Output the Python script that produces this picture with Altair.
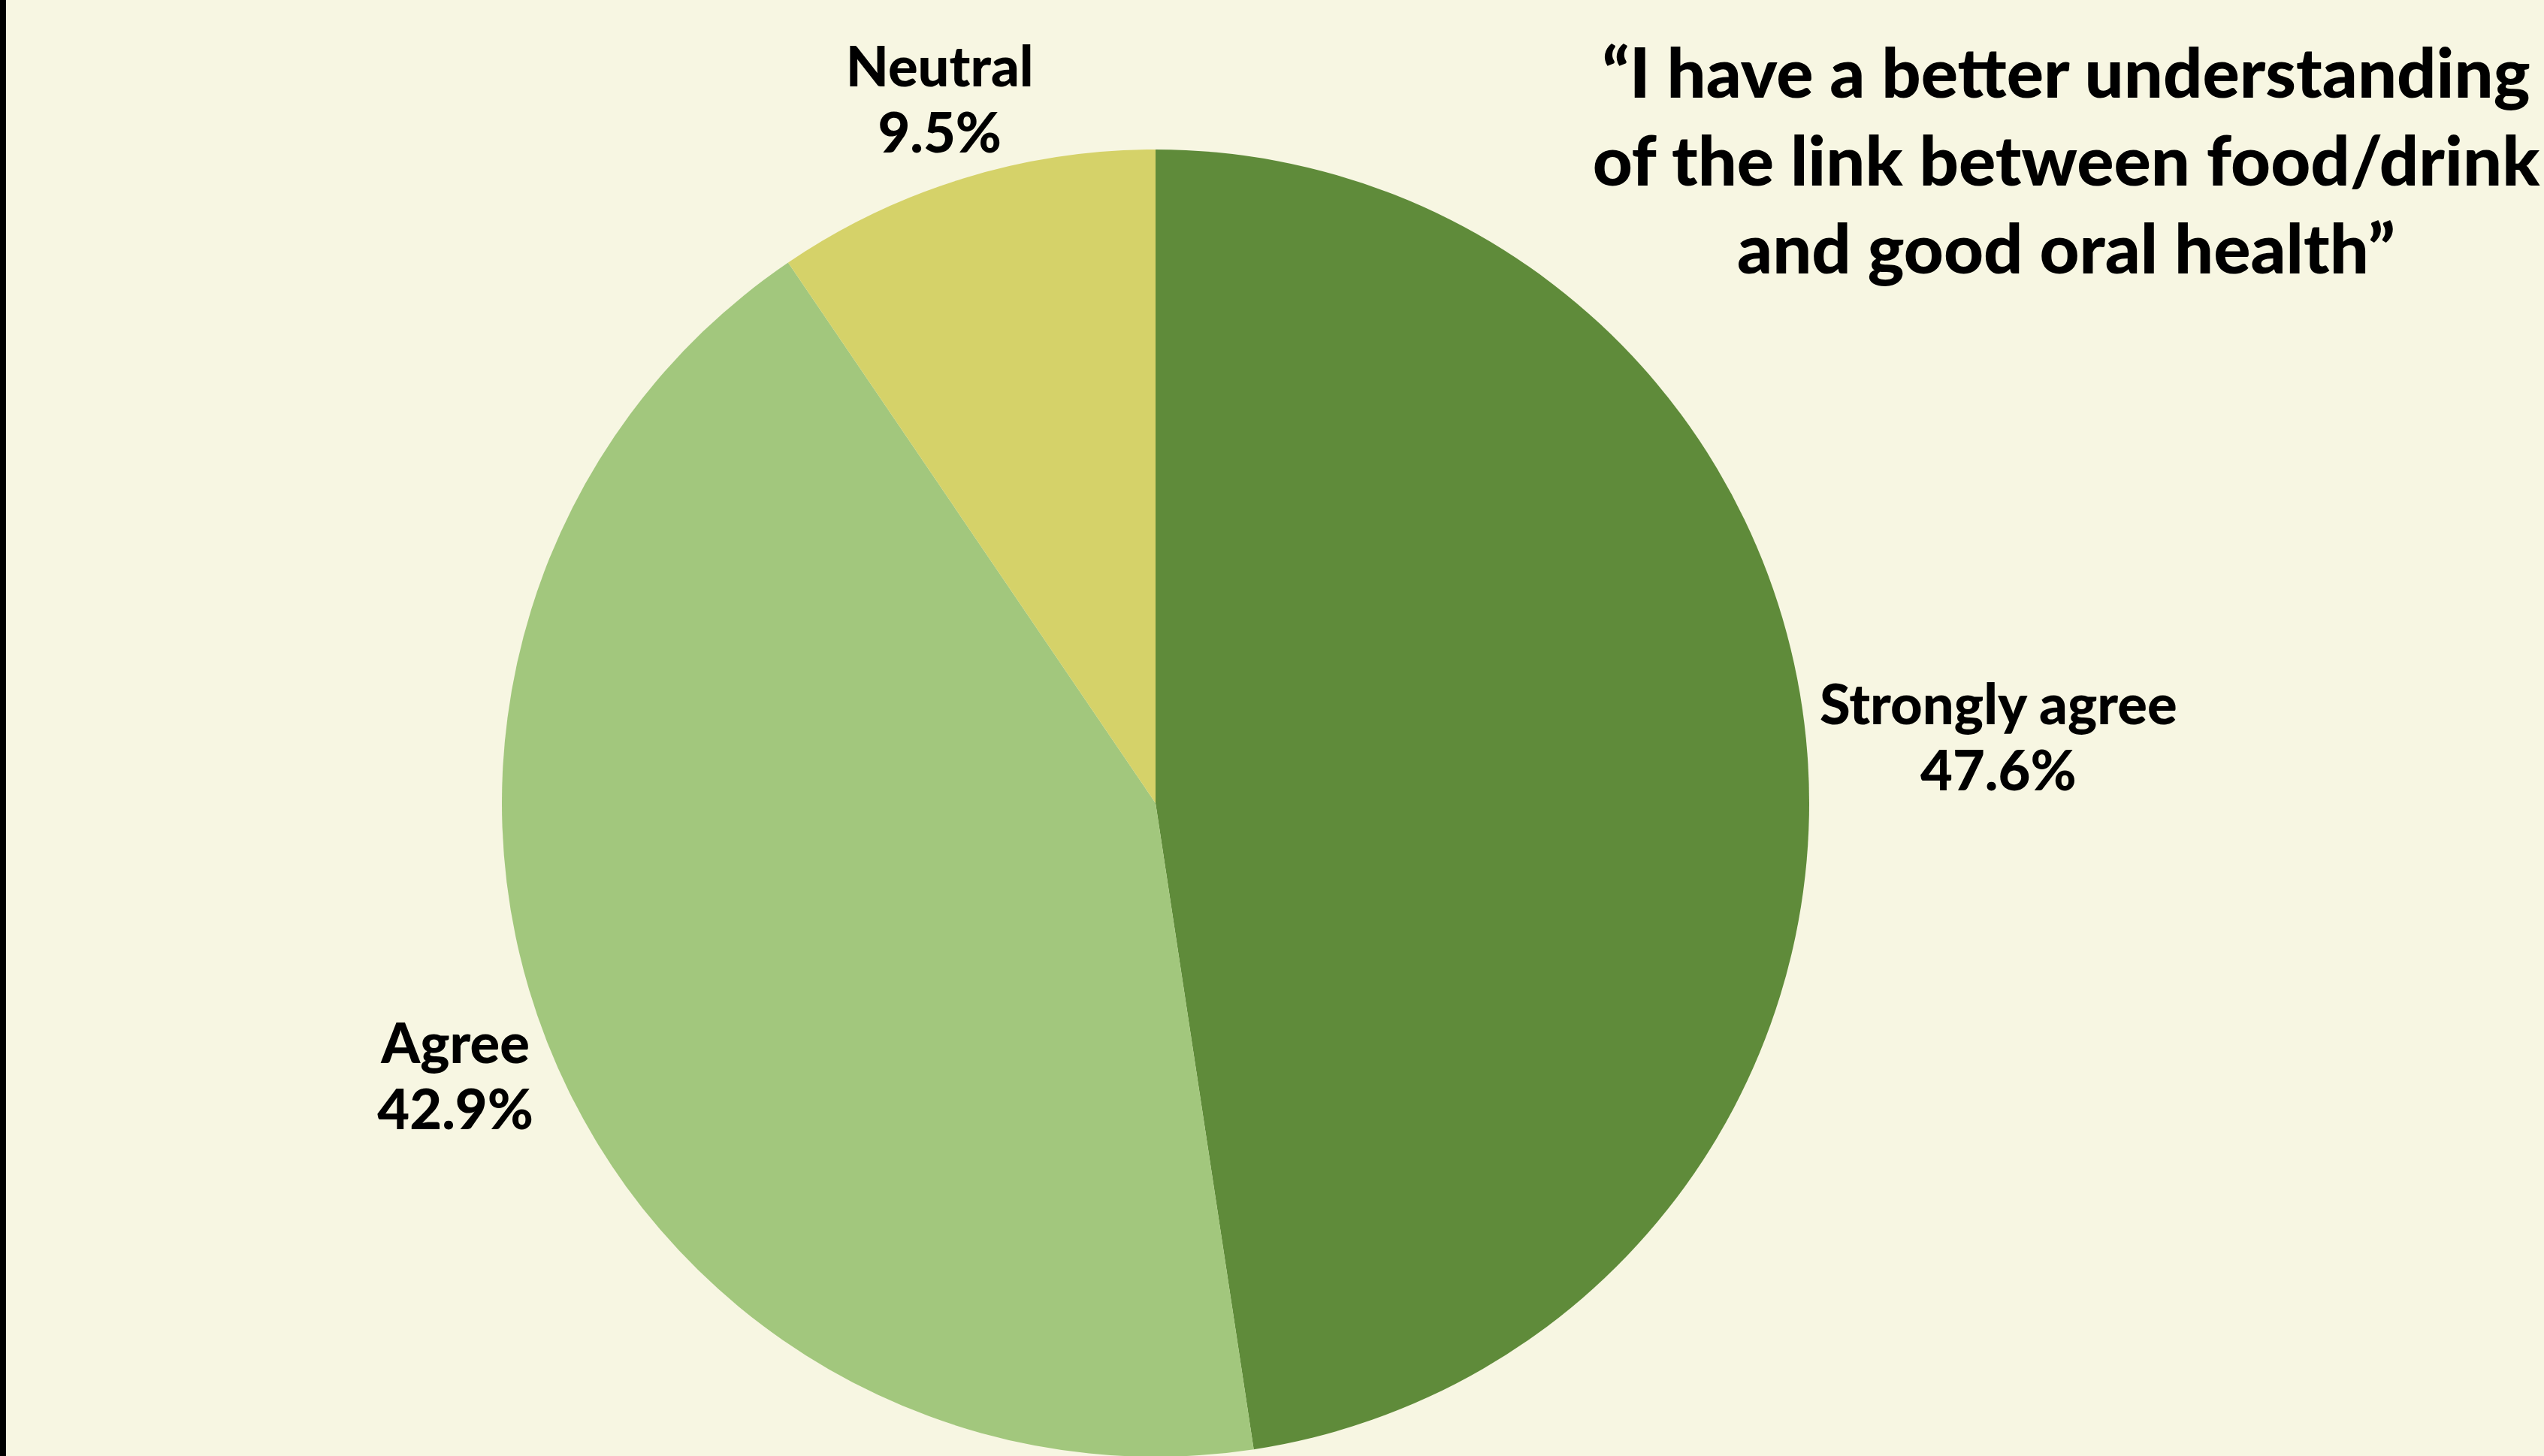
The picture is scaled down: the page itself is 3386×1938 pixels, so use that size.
import altair as alt
import pandas as pd

# ---- data ----
categories = ["Strongly agree", "Agree", "Neutral"]
values = [47.6, 42.9, 9.5]
pct_labels = ["47.6%", "42.9%", "9.5%"]
colors = ["#5F8B3A", "#A2C77D", "#D5D269"]
title_lines = [
    "\u201cI have a better understanding",
    "of the link between food/drink",
    "and good oral health\u201d",
]

# ---- layout (not data) ----
W, H = 3386, 1938
CX, CY, R = 1538, 1069, 870
FONT = "Lato"
label_radius = {"Strongly agree": 1125, "Agree": 1001, "Neutral": 977}

df = pd.DataFrame({
    "category": categories,
    "value": values,
    "pct": pct_labels,
    "idx": list(range(len(categories))),
})
df["label"] = df["category"] + "\n" + df["pct"]
df["lr"] = df["category"].map(label_radius)

theta_scale = alt.Scale(domain=[0, sum(values)], range=[0, 6.283185307179586])

pie = alt.Chart(df).mark_arc(outerRadius=R, strokeWidth=0).encode(
    theta=alt.Theta("value:Q", stack=True, scale=theta_scale),
    order=alt.Order("idx:Q", sort="ascending"),
    x=alt.value(CX),
    y=alt.value(CY),
    color=alt.Color("category:N",
                    scale=alt.Scale(domain=categories, range=colors),
                    legend=None),
)

labels = alt.Chart(df).transform_window(
    cum="sum(value)", sort=[alt.SortField("idx", order="ascending")]
).transform_calculate(
    mid="datum.cum - datum.value / 2"
).mark_text(
    font=FONT, fontSize=74, fontWeight=900, color="#000000",
    align="center", baseline="middle", lineBreak="\n", lineHeight=88,
    dy=-42,
).encode(
    theta=alt.Theta("mid:Q", stack=None, scale=theta_scale),
    x=alt.value(CX),
    y=alt.value(CY),
    radius=alt.Radius("lr:Q", scale=None),
    text="label:N",
)

title_df = pd.DataFrame({"t": ["\n".join(title_lines)]})
title = alt.Chart(title_df).mark_text(
    font=FONT, fontSize=92, fontWeight=900, color="#000000",
    align="center", baseline="alphabetic", lineBreak="\n", lineHeight=117,
).encode(
    x=alt.value(2750),
    y=alt.value(130),
    text="t:N",
)

strip = alt.Chart(title_df).mark_rect(color="#000000").encode(
    x=alt.value(0), x2=alt.value(8), y=alt.value(0), y2=alt.value(H),
)

chart = alt.layer(pie, labels, title, strip).properties(
    width=W, height=H,
    autosize=alt.AutoSizeParams(type="none"),
    padding=0,
    background="#F7F6E2",
).configure_view(stroke=None)

chart.save("out.html", embed_options={"renderer": "svg", "actions": False})
